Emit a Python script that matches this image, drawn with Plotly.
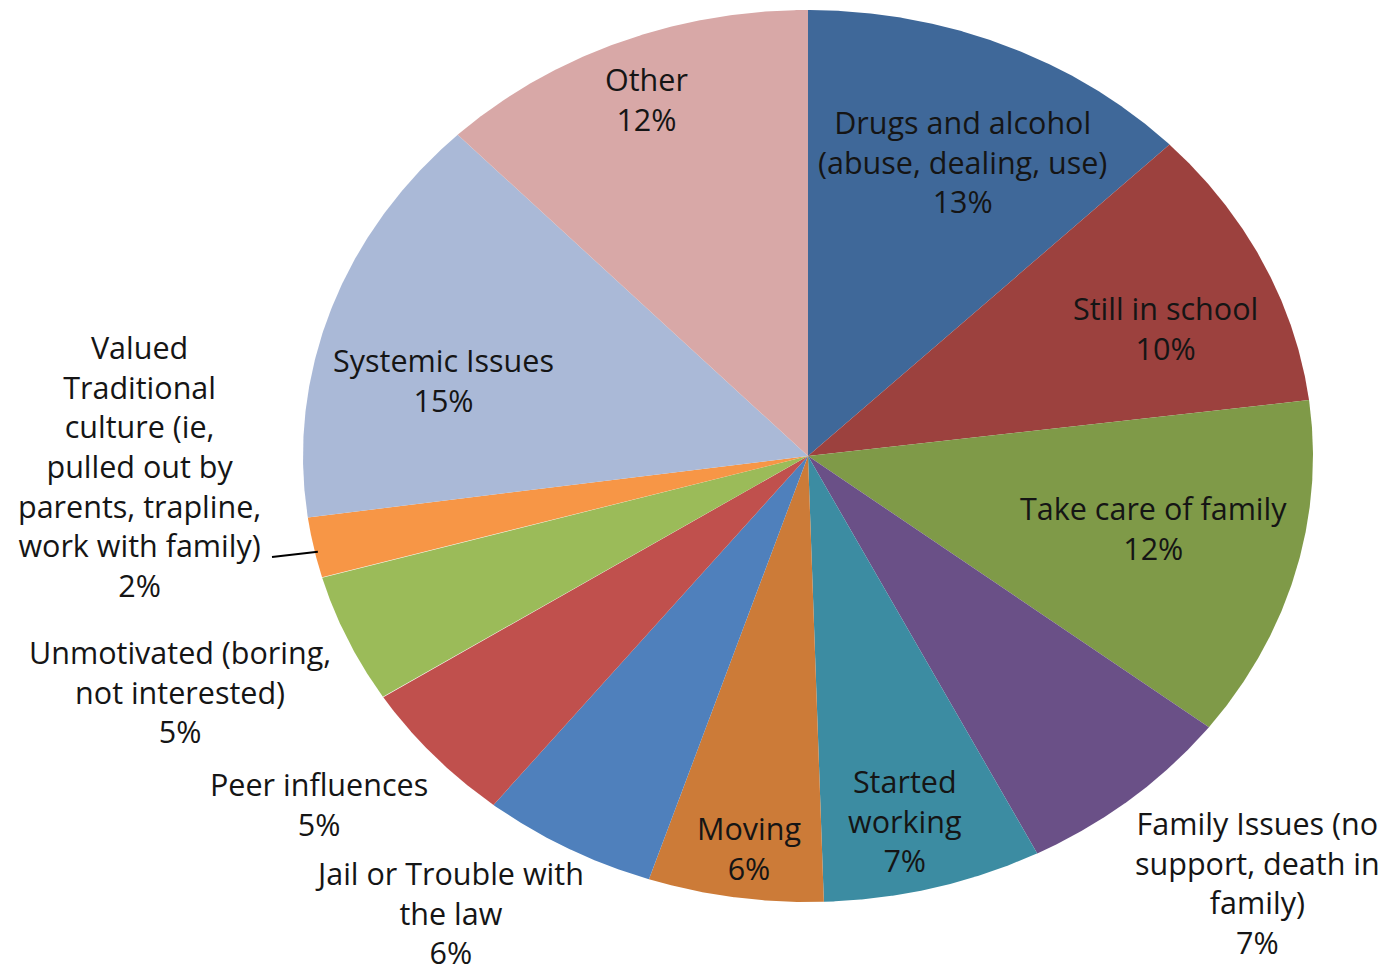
import numpy as np
import plotly.graph_objects as go

# ---- data ----
categories = [
    "Drugs and alcohol (abuse, dealing, use)",
    "Still in school",
    "Take care of family",
    "Family Issues (no support, death in family)",
    "Started working",
    "Moving",
    "Jail or Trouble with the law",
    "Peer influences",
    "Unmotivated (boring, not interested)",
    "Valued Traditional culture (ie, pulled out by parents, trapline, work with family)",
    "Systemic Issues",
    "Other",
]
values = [12.7, 10.3, 12.4, 7.1, 7.0, 5.6, 5.6, 5.2, 4.7, 2.2, 15.0, 12.2]
display_labels = [
    "Drugs and alcohol<br>(abuse, dealing, use)",
    "Still in school",
    "Take care of family",
    "Family Issues (no<br>support, death in<br>family)",
    "Started<br>working",
    "Moving",
    "Jail or Trouble with<br>the law",
    "Peer influences",
    "Unmotivated (boring,<br>not interested)",
    "Valued<br>Traditional<br>culture (ie,<br>pulled out by<br>parents, trapline,<br>work with family)",
    "Systemic Issues",
    "Other",
]
colors = ["#3F6899", "#9C413E", "#7F9A48", "#6A5087", "#3C8CA2", "#CC7B38",
          "#4F80BC", "#C0504D", "#9BBB59", "#F79646", "#AAB9D7", "#D8A8A7"]

# label placement (pixel space of the page)
label_pos = [(962, 161), (1165, 328), (1153, 528), (1257, 882), (904, 820),
             (749, 848), (449, 912), (319, 804), (180, 691), (139, 466),
             (443, 380), (646, 99)]

W, H = 1388, 976
OFF = 8  # page body margin offset
cx, cy, rx, ry = 808, 456, 505, 446

fig = go.Figure()
total = float(sum(values))
start = 0.0
mids = []
for cat, v, col in zip(categories, values, colors):
    a0 = start / total * 2 * np.pi
    a1 = (start + v) / total * 2 * np.pi
    mids.append((a0 + a1) / 2)
    t = np.linspace(a0, a1, 200)
    xs = np.concatenate([[cx], cx + rx * np.sin(t), [cx]])
    ys = np.concatenate([[cy], cy - ry * np.cos(t), [cy]])
    fig.add_trace(go.Scatter(
        x=xs, y=ys, mode="lines", fill="toself", fillcolor=col,
        line=dict(width=0, color=col), name=cat,
        hoveron="fills", text=f"{cat}: {round(v)}%", hoverinfo="text",
        showlegend=False,
    ))
    start += v

font = dict(family="Open Sans, sans-serif", size=30.5, color="#151515")
for lab, v, (px, py) in zip(display_labels, values, label_pos):
    fig.add_annotation(x=px, y=py, xref="x", yref="y",
                       text=f"{lab}<br>{round(v)}%", showarrow=False,
                       xanchor="center", yanchor="middle", font=font)

# leader line for the small "Valued Traditional culture" slice
m = mids[9]
ex, ey = cx + rx * np.sin(m), cy - ry * np.cos(m)
fig.add_shape(type="line", xref="x", yref="y", x0=272, y0=557, x1=ex + 4, y1=ey + 4,
              line=dict(color="black", width=2))

fig.update_layout(
    width=W, height=H, margin=dict(l=0, r=0, t=0, b=0),
    paper_bgcolor="white", plot_bgcolor="white",
    xaxis=dict(range=[OFF, W + OFF], visible=False, fixedrange=True),
    yaxis=dict(range=[H + OFF, OFF], visible=False, fixedrange=True),
    showlegend=False,
)
fig.write_html("out.html")
